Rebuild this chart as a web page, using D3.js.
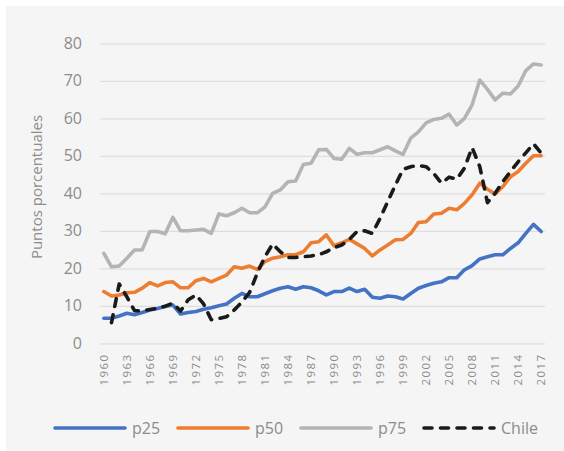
<!DOCTYPE html>
<html>
<head>
<meta charset="utf-8">
<script src="https://cdn.jsdelivr.net/npm/d3@7"></script>
<style>
  body { margin: 0; background: #ffffff; }
  text { font-family: "Open Sans", "Noto Sans", sans-serif; fill: #8c8c8c; }
</style>
</head>
<body>
<div id="wrapper"></div>
<script>
const years = [1960, 1961, 1962, 1963, 1964, 1965, 1966, 1967, 1968, 1969,
  1970, 1971, 1972, 1973, 1974, 1975, 1976, 1977, 1978, 1979,
  1980, 1981, 1982, 1983, 1984, 1985, 1986, 1987, 1988, 1989,
  1990, 1991, 1992, 1993, 1994, 1995, 1996, 1997, 1998, 1999,
  2000, 2001, 2002, 2003, 2004, 2005, 2006, 2007, 2008, 2009,
  2010, 2011, 2012, 2013, 2014, 2015, 2016, 2017]

const p25 = [6.7, 6.7, 7.3, 8.0, 7.6, 8.2, 8.9, 9.3, 9.8, 10.2,
  7.8, 8.2, 8.5, 9.1, 9.5, 10.0, 10.5, 12.0, 13.3, 12.4,
  12.4, 13.2, 14.0, 14.7, 15.1, 14.4, 15.1, 14.8, 14.0, 12.9,
  13.8, 13.8, 14.7, 13.8, 14.4, 12.3, 12.0, 12.6, 12.4, 11.8,
  13.3, 14.7, 15.4, 16.0, 16.4, 17.5, 17.5, 19.6, 20.7, 22.5,
  23.1, 23.6, 23.6, 25.3, 26.8, 29.3, 31.7, 29.8]

const p50 = [13.8, 12.6, 12.9, 13.5, 13.6, 14.7, 16.2, 15.3, 16.2, 16.4,
  14.8, 14.8, 16.7, 17.3, 16.4, 17.3, 18.2, 20.4, 20.0, 20.6,
  19.7, 21.8, 22.7, 23.1, 23.6, 23.6, 24.4, 26.8, 27.1, 28.9,
  26.0, 26.8, 27.7, 26.5, 25.3, 23.3, 24.9, 26.2, 27.6, 27.7,
  29.3, 32.2, 32.4, 34.5, 34.7, 36.0, 35.6, 37.3, 39.6, 42.7,
  41.1, 39.8, 41.8, 44.4, 45.8, 48.0, 50.0, 50.0]

const p75 = [24.0, 20.4, 20.6, 22.7, 24.9, 24.9, 29.8, 29.8, 29.2, 33.6,
  30.0, 30.0, 30.2, 30.4, 29.3, 34.5, 34.0, 34.8, 36.0, 34.8,
  34.8, 36.4, 40.0, 40.9, 43.1, 43.3, 47.7, 48.0, 51.6, 51.7,
  49.3, 49.1, 52.0, 50.4, 50.8, 50.8, 51.6, 52.4, 51.3, 50.4,
  54.7, 56.4, 58.8, 59.7, 60.0, 61.1, 58.2, 60.0, 63.6, 70.2,
  67.7, 64.9, 66.7, 66.5, 68.6, 72.7, 74.5, 74.2]

const chile = [null, 5.5, 15.8, 12.4, 8.7, 8.7, 9.0, 9.3, 9.9, 10.7,
  8.6, 11.6, 12.9, 10.5, 6.3, 6.6, 7.1, 8.9, 11.0, 13.6,
  18.7, 23.1, 26.5, 24.4, 22.9, 22.9, 23.1, 23.3, 23.6, 24.4,
  25.5, 26.2, 27.7, 29.8, 30.0, 29.3, 33.3, 37.8, 42.2, 46.4,
  47.1, 47.4, 47.1, 45.3, 42.7, 44.3, 43.8, 46.7, 52.2, 47.1,
  37.5, 40.0, 43.1, 45.8, 48.4, 50.8, 53.2, 50.7]

const yTicks = [0, 10, 20, 30, 40, 50, 60, 70, 80]
const xTickYears = [1960, 1963, 1966, 1969, 1972, 1975, 1978, 1981, 1984, 1987,
  1990, 1993, 1996, 1999, 2002, 2005, 2008, 2011, 2014, 2017]

const series = [
  { name: "p25", values: p25, color: "#4472C4", dash: null },
  { name: "p50", values: p50, color: "#ED7D31", dash: null },
  { name: "p75", values: p75, color: "#B4B4B4", dash: null },
  { name: "Chile", values: chile, color: "#1a1a1a", dash: "8 8.5" },
]

let dimensions = {
  width: 564,
  height: 451,
  margin: { top: 43.3, right: 19, bottom: 107.7, left: 100 },
}
dimensions.boundedWidth = dimensions.width - dimensions.margin.left - dimensions.margin.right
dimensions.boundedHeight = dimensions.height - dimensions.margin.top - dimensions.margin.bottom

const wrapper = d3.select("#wrapper")
  .append("svg")
  .attr("width", dimensions.width)
  .attr("height", dimensions.height)

// grey chart panel
wrapper.append("rect")
  .attr("x", 6)
  .attr("y", 6)
  .attr("width", dimensions.width - 6)
  .attr("height", dimensions.height - 6)
  .attr("fill", "#f5f5f5")

const bounds = wrapper.append("g")
  .attr("transform", `translate(${dimensions.margin.left},${dimensions.margin.top})`)

const xScale = d3.scaleBand()
  .domain(years)
  .range([0, dimensions.boundedWidth])
const xPos = year => xScale(year) + xScale.bandwidth() / 2

const yScale = d3.scaleLinear()
  .domain([0, 80])
  .range([dimensions.boundedHeight, 0])

// gridlines
const yAxis = bounds.append("g")
  .call(d3.axisLeft(yScale)
    .tickValues(yTicks)
    .tickSize(-dimensions.boundedWidth)
    .tickPadding(18))
yAxis.select(".domain").remove()
yAxis.selectAll("line").attr("stroke", "#dedede").attr("stroke-width", 1.2)
yAxis.selectAll("text")
  .attr("fill", "#8c8c8c")
  .style("font-size", "16px")
  .style("font-family", "'Open Sans', sans-serif")

// x axis labels, rotated
const xAxis = bounds.append("g")
  .attr("transform", `translate(0,${dimensions.boundedHeight})`)
  .call(d3.axisBottom(xScale)
    .tickValues(xTickYears)
    .tickSize(0))
xAxis.select(".domain").remove()
xAxis.selectAll("text")
  .attr("fill", "#8c8c8c")
  .style("font-size", "11.5px")
  .style("letter-spacing", "1.5px")
  .style("font-family", "'Open Sans', sans-serif")
  .attr("text-anchor", "end")
  .attr("transform", "rotate(-90)")
  .attr("x", -10)
  .attr("y", 0)
  .attr("dy", "0.35em")

// lines
series.forEach(s => {
  const lineGenerator = d3.line()
    .defined(d => d != null)
    .x((d, i) => xPos(years[i]))
    .y(d => yScale(d))

  bounds.append("path")
    .attr("d", lineGenerator(s.values))
    .attr("fill", "none")
    .attr("stroke", s.color)
    .attr("stroke-width", 3.6)
    .attr("stroke-linejoin", "round")
    .attr("stroke-linecap", "round")
    .attr("stroke-dasharray", s.dash)
})

// y axis title
wrapper.append("text")
  .attr("transform", "translate(37,187) rotate(-90)")
  .attr("text-anchor", "middle")
  .attr("dy", "0.35em")
  .style("font-size", "15px")
  .text("Puntos porcentuales")

// legend
const legend = wrapper.append("g")
  .attr("transform", "translate(55,428)")

series.forEach((s, i) => {
  const item = legend.append("g")
    .attr("transform", `translate(${i * 123},0)`)
  item.append("line")
    .attr("x1", 0)
    .attr("x2", 70)
    .attr("stroke", s.color)
    .attr("stroke-width", 3.6)
    .attr("stroke-linecap", "round")
    .attr("stroke-dasharray", s.dash)
  item.append("text")
    .attr("x", 77)
    .attr("dy", "0.35em")
    .style("font-size", "16px")
    .text(s.name)
})
</script>
</body>
</html>
